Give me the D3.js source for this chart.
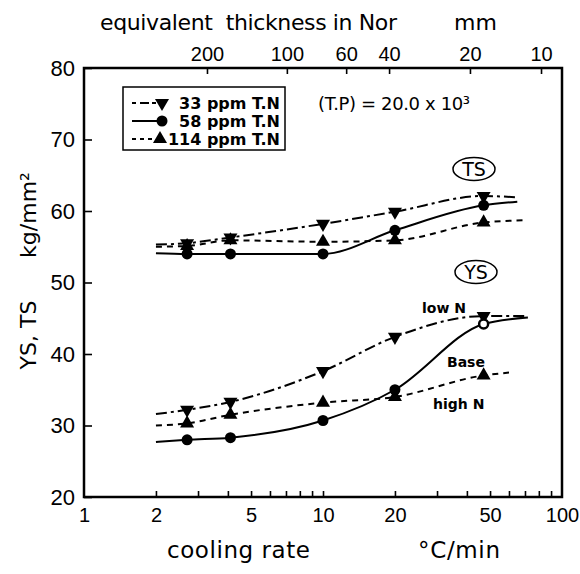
<!DOCTYPE html>
<html><head><meta charset="utf-8">
<script src="https://cdn.jsdelivr.net/npm/d3@7"></script>
<style>
body{margin:0;background:#fff;}
svg{font-family:"DejaVu Sans","Liberation Sans",Arial,sans-serif;}
</style></head>
<body>
<svg id="c" width="580" height="574"></svg>
<script>
// ---- data ----
const rateMarks = [2.7, 4.1, 10, 20, 47];
const ts33  = [55.5, 56.3, 58.2, 59.9, 62.1];
const ts58  = [54.0, 54.0, 54.0, 57.3, 60.8];
const ts114 = [55.1, 55.9, 55.7, 55.9, 58.4];
const ys33  = [32.2, 33.3, 37.6, 42.4, 45.3];
const ys58  = [28.0, 28.3, 30.7, 35.0, 44.2];
const ys114 = [30.3, 31.5, 33.2, 34.0, 37.0];
// fitted-curve ends: [rate, value]
const ts33Ends  = [[2.0, 55.3], [65, 61.9]];
const ts58Ends  = [[2.0, 54.1], [65, 61.3]];
const ts114Ends = [[2.0, 55.0], [70, 58.7]];
const ys33Ends  = [[2.0, 31.6], [72, 45.3]];
const ys58Ends  = [[2.0, 27.7], [72, 45.1]];
const ys114Ends = [[2.0, 30.0], [60, 37.4]];
const bottomMajor = [1, 2, 5, 10, 20, 50, 100];
const bottomMinor = [2,3,4,5,6,7,8,9,10,20,30,40,50,60,70,80,90];
const yTicks = [20, 30, 40, 50, 60, 70, 80];
const topThickness = [200, 100, 60, 40, 20, 10];
const topRates = [3.27, 7.06, 12.5, 18.9, 41.2, 81.7];
const legendLabels = ["33 ppm T.N", "58 ppm T.N", "114 ppm T.N"];

// ---- scales ----
const L = 84, R = 562, T = 68, B = 497;
const x = d3.scaleLog().domain([1, 100]).range([L, R]);
const y = d3.scaleLinear().domain([20, 80]).range([B, T]);
const svg = d3.select("#c");

const styles = [
  {dash: "11,4,3,4", sym: "down"},
  {dash: null, sym: "circle"},
  {dash: "6,5", sym: "up"}
];

// ---- axes ----
const gB = svg.append("g").attr("transform", `translate(0,${B})`)
  .call(d3.axisBottom(x).tickValues(bottomMinor).tickSize(-6).tickFormat(""));
gB.select(".domain").remove();
const gBL = svg.append("g").attr("transform", `translate(0,${B})`)
  .call(d3.axisBottom(x).tickValues(bottomMajor).tickSize(0).tickPadding(11).tickFormat(d3.format("d")));
gBL.select(".domain").remove();
gBL.selectAll("text").attr("font-size", 20).attr("fill", "#000");

const gL = svg.append("g").attr("transform", `translate(${L},0)`)
  .call(d3.axisLeft(y).tickValues(yTicks).tickSize(-8).tickPadding(9));
gL.select(".domain").remove();
gL.selectAll("text").attr("font-size", 22).attr("fill", "#000");

const gT = svg.append("g").attr("transform", `translate(0,${T})`)
  .call(d3.axisTop(x).tickValues(topRates).tickSize(-6).tickPadding(7)
    .tickFormat((d, i) => topThickness[i]));
gT.select(".domain").remove();
gT.selectAll("text").attr("font-size", 20).attr("fill", "#000");

svg.selectAll(".tick line").attr("stroke", "#000").attr("stroke-width", 1.6);

svg.append("rect").attr("x", L).attr("y", T).attr("width", R - L).attr("height", B - T)
  .attr("fill", "none").attr("stroke", "#000").attr("stroke-width", 2.5);

// ---- curves ----
const line = d3.line().x(d => x(d[0])).y(d => y(d[1])).curve(d3.curveMonotoneX);
function build(vals, ends) {
  return [ends[0], ...rateMarks.map((r, i) => [r, vals[i]]), ends[1]];
}
const series = [
  {vals: ts33, ends: ts33Ends, s: 0}, {vals: ts58, ends: ts58Ends, s: 1}, {vals: ts114, ends: ts114Ends, s: 2},
  {vals: ys33, ends: ys33Ends, s: 0}, {vals: ys58, ends: ys58Ends, s: 1}, {vals: ys114, ends: ys114Ends, s: 2}
];
series.forEach(se => {
  svg.append("path").attr("d", line(build(se.vals, se.ends)))
    .attr("fill", "none").attr("stroke", "#000").attr("stroke-width", 2)
    .attr("stroke-dasharray", styles[se.s].dash);
});

function marker(g, sym, cx, cy, open) {
  if (sym === "circle") {
    g.append("circle").attr("cx", cx).attr("cy", cy).attr("r", open ? 4.5 : 5.5)
      .attr("fill", open ? "#fff" : "#000").attr("stroke", "#000").attr("stroke-width", open ? 2.5 : 0);
  } else {
    g.append("path").attr("d", d3.symbol().type(d3.symbolTriangle).size(85)())
      .attr("transform", `translate(${cx},${cy}) rotate(${sym === "down" ? 180 : 0})`)
      .attr("fill", "#000");
  }
}
const mg = svg.append("g");
series.forEach((se, k) => {
  se.vals.forEach((v, i) => {
    const open = (k === 4 && i === 4);
    marker(mg, styles[se.s].sym, x(rateMarks[i]), y(v), open);
  });
});

// ---- legend ----
svg.append("rect").attr("x", 123).attr("y", 87).attr("width", 162).attr("height", 63)
  .attr("fill", "#fff").attr("stroke", "#000").attr("stroke-width", 1.5);
legendLabels.forEach((lab, i) => {
  const ly = 103 + i * 18;
  svg.append("line").attr("x1", 132).attr("x2", 160).attr("y1", ly).attr("y2", ly)
    .attr("stroke", "#000").attr("stroke-width", 2).attr("stroke-dasharray", styles[i].dash ? (i === 0 ? "4,4,9,3" : "4,4") : null);
  marker(svg, styles[i].sym, i === 2 ? 160 : 162, ly, false);
  svg.append("text").attr("x", 280).attr("y", ly + 6).attr("text-anchor", "end")
    .attr("font-size", 16).attr("font-weight", "bold").text(lab);
});

// ---- annotations ----
svg.append("text").attr("x", 100).attr("y", 30).attr("font-size", 22).attr("xml:space", "preserve")
  .attr("textLength", 297).text("equivalent  thickness in Nor");
svg.append("text").attr("x", 454).attr("y", 30).attr("font-size", 22).text("mm");

svg.append("text").attr("x", 167).attr("y", 558).attr("font-size", 23).attr("textLength", 143).text("cooling rate");
svg.append("text").attr("x", 418).attr("y", 558).attr("font-size", 23).attr("textLength", 82).text("°C/min");

svg.append("text").attr("transform", "translate(36,335) rotate(-90)").attr("text-anchor", "middle")
  .attr("font-size", 22).text("YS, TS");
svg.append("text").attr("transform", "translate(36,215) rotate(-90)").attr("text-anchor", "middle")
  .attr("font-size", 22).text("kg/mm²");

svg.append("text").attr("x", 318).attr("y", 110).attr("font-size", 18).attr("textLength", 152).text("(T.P) = 20.0 x 10³");

[{t: "TS", cx: 474, cy: 169}, {t: "YS", cx: 476, cy: 272}].forEach(e => {
  svg.append("ellipse").attr("cx", e.cx).attr("cy", e.cy).attr("rx", 21).attr("ry", 11.5)
    .attr("fill", "#fff").attr("stroke", "#000").attr("stroke-width", 1.5);
  svg.append("text").attr("x", e.cx).attr("y", e.cy + 7).attr("text-anchor", "middle")
    .attr("font-size", 19).text(e.t);
});
svg.append("text").attr("x", 422).attr("y", 313).attr("font-size", 14).attr("font-weight", "bold").text("low N");
svg.append("text").attr("x", 447).attr("y", 367).attr("font-size", 14).attr("font-weight", "bold").text("Base");
svg.append("text").attr("x", 433).attr("y", 409).attr("font-size", 14).attr("font-weight", "bold").text("high N");
</script>
</body></html>
